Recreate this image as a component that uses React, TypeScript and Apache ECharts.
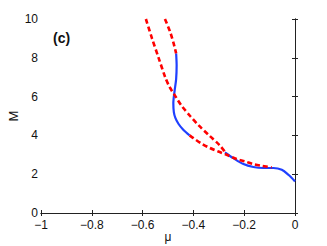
import React, { useEffect, useRef } from "react";
import * as echarts from "echarts";

// Unstable branches (red dashed)
const redUpperLeft: [number, number][] = [
  [-0.587, 10], [-0.563, 9.0], [-0.537, 8.0], [-0.511, 7.0], [-0.494, 6.5],
  [-0.47, 6.0], [-0.445, 5.5], [-0.413, 5.0], [-0.378, 4.5], [-0.338, 4.0],
  [-0.297, 3.5], [-0.274, 3.12],
];
const redUpperRight: [number, number][] = [
  [-0.512, 10], [-0.492, 9.35], [-0.477, 8.7], [-0.468, 8.23],
];
const redLower: [number, number][] = [
  [-0.415, 4.0], [-0.4, 3.86], [-0.367, 3.57], [-0.335, 3.35], [-0.302, 3.17],
  [-0.269, 3.0], [-0.23, 2.78], [-0.197, 2.66], [-0.164, 2.52], [-0.131, 2.43],
  [-0.092, 2.35],
];
// Stable branches (blue solid)
const blueUpper: [number, number][] = [
  [-0.468, 8.23], [-0.466, 7.6], [-0.468, 6.9], [-0.474, 6.3], [-0.479, 5.66],
  [-0.477, 5.2], [-0.471, 4.9], [-0.459, 4.6], [-0.44, 4.29], [-0.415, 4.0],
];
const blueLower: [number, number][] = [
  [-0.276, 3.12], [-0.243, 2.83], [-0.203, 2.52], [-0.164, 2.37], [-0.125, 2.32],
  [-0.085, 2.32], [-0.052, 2.23], [-0.026, 1.97], [0, 1.63],
];

const xTicks = { min: -1, max: 0, interval: 0.2 };
const yTicks = { min: 0, max: 10, interval: 2 };

const FONT = "'Liberation Sans', Arial, Helvetica, sans-serif";
const AXIS_COLOR = "#222";
const BLUE = "#1f40ff";
const RED = "#ff0000";

const fmt = (v: number) => {
  const r = Math.round(v * 10) / 10;
  return r < 0 ? "\u2212" + String(Math.abs(r)) : String(r);
};

export default function App() {
  const ref = useRef<HTMLDivElement>(null);
  useEffect(() => {
    document.body.style.margin = "0";
    const chart = echarts.init(ref.current!, null, { renderer: "svg", width: 327, height: 246 });
    const axisLine = { show: true, lineStyle: { color: AXIS_COLOR, width: 1 } };
    const axisTick = { show: true, inside: true, length: 3, lineStyle: { color: AXIS_COLOR, width: 1 } };
    const redLine = (data: [number, number][]) => ({
      type: "line",
      data,
      smooth: 0.3,
      showSymbol: false,
      symbol: "none",
      lineStyle: { color: RED, width: 2.6, type: [5, 3] },
      z: 3,
    });
    const blueLine = (data: [number, number][]) => ({
      type: "line",
      data,
      smooth: 0.3,
      showSymbol: false,
      symbol: "none",
      lineStyle: { color: BLUE, width: 2.2 },
      z: 2,
    });
    chart.setOption({
      animation: false,
      grid: { left: 41, right: 32, top: 19, bottom: 33, containLabel: false, outerBoundsMode: "none" },
      xAxis: [
        {
          type: "value", position: "bottom", ...xTicks,
          axisLine, axisTick, splitLine: { show: false },
          axisLabel: { formatter: fmt, color: "#111", fontSize: 12, fontFamily: FONT, margin: 6 },
          name: "\u03bc", nameLocation: "middle", nameGap: 18, nameMoveOverlap: false,
          nameTextStyle: { color: "#111", fontSize: 12, fontFamily: FONT },
        },
        {
          type: "value", position: "top", ...xTicks,
          axisLine, axisTick, splitLine: { show: false }, axisLabel: { show: false },
        },
      ],
      yAxis: [
        {
          type: "value", position: "left", ...yTicks,
          axisLine, axisTick, splitLine: { show: false },
          axisLabel: { formatter: fmt, color: "#111", fontSize: 12, fontFamily: FONT, margin: 3 },
          name: "M", nameLocation: "middle", nameGap: 21, nameMoveOverlap: false,
          nameTextStyle: { color: "#111", fontSize: 13, fontFamily: FONT },
        },
        {
          type: "value", position: "right", ...yTicks,
          axisLine, axisTick, splitLine: { show: false }, axisLabel: { show: false },
        },
      ],
      graphic: [
        {
          type: "text", left: 53, top: 31,
          style: { text: "(c)", font: `bold 14px ${FONT}`, fill: "#111" },
        },
      ],
      series: [
        blueLine(blueUpper),
        blueLine(blueLower),
        redLine(redUpperLeft),
        redLine(redUpperRight),
        redLine(redLower),
      ],
    });
    return () => chart.dispose();
  }, []);
  return <div ref={ref} style={{ width: 327, height: 246, background: "#fff" }} />;
}
